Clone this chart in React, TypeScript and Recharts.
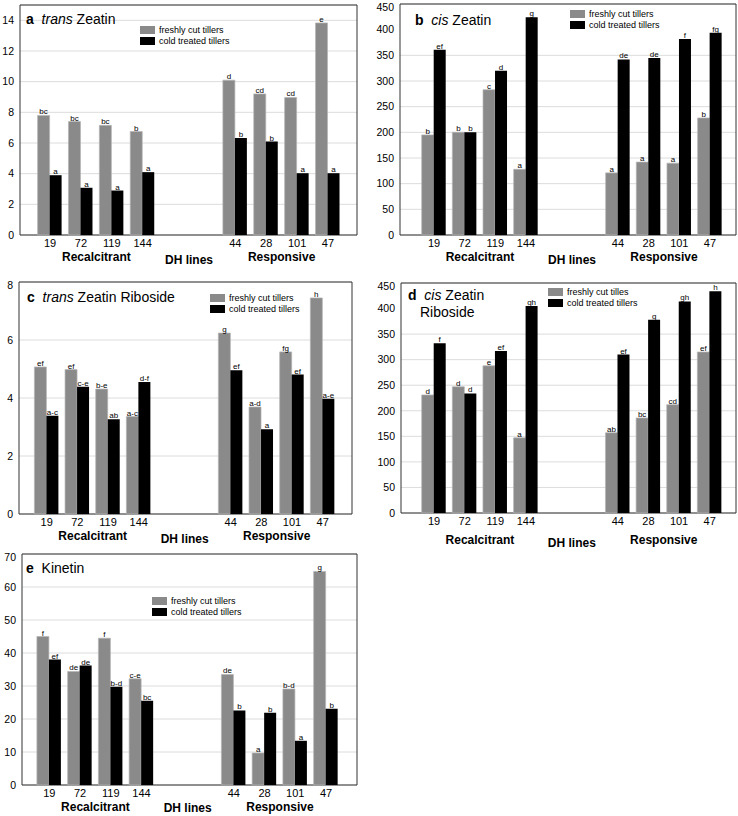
import React from 'react';
import { BarChart, Bar, XAxis, YAxis, CartesianGrid, Legend, LabelList } from 'recharts';

const FONT = '"Liberation Sans", Arial, Helvetica, sans-serif';

const lines = ['19', '72', '119', '144', '44', '28', '101', '47'];
const freshName = 'freshly cut tillers';
const coldName = 'cold treated tillers';

// a trans Zeatin
const tzFresh = [7.8, 7.4, 7.15, 6.75, 10.1, 9.2, 8.97, 13.83];
const tzCold = [3.9, 3.08, 2.9, 4.1, 6.33, 6.09, 4.03, 4.03];
const tzFreshLet = ['bc', 'bc', 'bc', 'b', 'd', 'cd', 'cd', 'e'];
const tzColdLet = ['a', 'a', 'a', 'a', 'b', 'b', 'a', 'a'];
const tzTicks = [0, 2, 4, 6, 8, 10, 12, 14];

// b cis Zeatin
const czFresh = [195, 200, 283, 128, 121, 142, 140, 228];
const czCold = [361, 200, 320, 424, 342, 345, 382, 394];
const czFreshLet = ['b', 'b', 'c', 'a', 'a', 'a', 'a', 'b'];
const czColdLet = ['ef', 'b', 'd', 'g', 'de', 'de', 'f', 'fg'];
const czTicks = [0, 50, 100, 150, 200, 250, 300, 350, 400, 450];

// c trans Zeatin Riboside
const tzrFresh = [5.07, 4.98, 4.31, 3.36, 6.24, 3.69, 5.59, 7.45];
const tzrCold = [3.39, 4.39, 3.27, 4.55, 4.96, 2.92, 4.81, 3.97];
const tzrFreshLet = ['ef', 'ef', 'b-e', 'a-c', 'g', 'a-d', 'fg', 'h'];
const tzrColdLet = ['a-c', 'c-e', 'ab', 'd-f', 'ef', 'a', 'ef', 'a-e'];
const tzrTicks = [0, 2, 4, 6, 8];

// d cis Zeatin Riboside
const czrFresh = [231, 247, 288, 147, 157, 186, 212, 315];
const czrCold = [332, 234, 317, 405, 310, 378, 414, 434];
const czrFreshLet = ['d', 'd', 'e', 'a', 'ab', 'bc', 'cd', 'ef'];
const czrColdLet = ['f', 'd', 'ef', 'gh', 'ef', 'g', 'gh', 'h'];
const czrTicks = [0, 50, 100, 150, 200, 250, 300, 350, 400, 450];

// e Kinetin
const kFresh = [45, 34.4, 44.5, 32.2, 33.5, 9.7, 29.1, 64.7];
const kCold = [38, 36.2, 29.8, 25.5, 22.6, 21.9, 13.4, 23.1];
const kFreshLet = ['f', 'de', 'f', 'c-e', 'de', 'a', 'b-d', 'g'];
const kColdLet = ['ef', 'de', 'b-d', 'bc', 'b', 'b', 'a', 'b'];
const kTicks = [0, 10, 20, 30, 40, 50, 60, 70];

// two empty slots separate the recalcitrant and responsive lines
const buildRows = (fresh: number[], cold: number[], fl: string[], cl: string[]) => {
  const rows = lines.map((line, i) => ({ line, fresh: fresh[i], cold: cold[i], fl: fl[i], cl: cl[i] }));
  const gap = (k: string) => ({ line: k, fresh: null, cold: null, fl: '', cl: '' });
  return [...rows.slice(0, 4), gap(' '), gap('  '), ...rows.slice(4)];
};

const frameH = ({ offset }: any) => [offset.top, offset.top + offset.height];
const frameV = ({ offset }: any) => [offset.left, offset.left + offset.width];

const LegendBox = ({ payload }: any) => {
  // fresh tillers first, as in the figure
  const items = [...(payload || [])].sort((a: any, b: any) => (a.dataKey === 'fresh' ? -1 : 1) - (b.dataKey === 'fresh' ? -1 : 1));
  return (
    <div style={{ fontSize: 9, lineHeight: '11px', color: '#000', fontFamily: FONT }}>
      {items.map((p: any) => (
        <div key={p.value} style={{ display: 'flex', alignItems: 'center', whiteSpace: 'nowrap' }}>
          <span style={{ display: 'inline-block', width: 15, height: 8, background: p.color, marginRight: 4 }} />
          {p.value}
        </div>
      ))}
    </div>
  );
};

interface PanelProps {
  px: number; py: number; pw: number; ph: number;
  yw: number; padL: number; padR: number;
  max: number; ticks: number[];
  rows: any[];
  fresh?: string;
  title: React.ReactNode;
  tx: number; ty: number;
  lx: number; ly: number;
  gdy: number; ddy?: number;
}

const Panel = (p: PanelProps) => {
  const left = p.px - p.yw;
  const top = p.py - 2;
  const band = (p.pw - p.padL - p.padR) / 10;
  const groups = [
    { text: 'Recalcitrant', c: 2, dy: 0 },
    { text: 'DH lines', c: 5, dy: p.ddy ?? 3 },
    { text: 'Responsive', c: 8, dy: 0 },
  ];
  return (
    <>
      <div style={{ position: 'absolute', left, top }}>
        <BarChart
          width={p.yw + p.pw + 2}
          height={p.ph + 44}
          data={p.rows}
          margin={{ top: 2, right: 2, left: 0, bottom: 0 }}
          barGap={0}
          barSize={12}
        >
          <CartesianGrid vertical={false} stroke="#dcdcdc" />
          <CartesianGrid horizontalCoordinatesGenerator={frameH} verticalCoordinatesGenerator={frameV} stroke="#333" />
          <XAxis
            dataKey="line"
            interval={0}
            height={42}
            padding={{ left: p.padL, right: p.padR }}
            axisLine={false}
            tickLine={false}
            tickSize={0}
            tickMargin={4}
            tick={{ fill: '#000', fontSize: 11 }}
          />
          <YAxis
            width={p.yw}
            domain={[0, p.max]}
            ticks={p.ticks}
            axisLine={false}
            tickLine={false}
            tickSize={0}
            tickMargin={6}
            tick={{ fill: '#000', fontSize: 10.5 }}
          />
          <Legend
            layout="vertical"
            align="center"
            verticalAlign="middle"
            content={<LegendBox />}
            wrapperStyle={{ left: p.lx - left, top: p.ly - top - 1.5, width: 'auto', height: 'auto' }}
          />
          <Bar dataKey="fresh" name={p.fresh || freshName} fill="#8a8a8a" stroke="#b4b4b4" strokeWidth={0.7} isAnimationActive={false}>
            <LabelList dataKey="fl" position="top" offset={1} fontSize={8} fill="#000" />
          </Bar>
          <Bar dataKey="cold" name={coldName} fill="#000" isAnimationActive={false}>
            <LabelList dataKey="cl" position="top" offset={1} fontSize={8} fill="#000" />
          </Bar>
        </BarChart>
      </div>
      <div style={{ position: 'absolute', left: p.tx, top: p.ty - 9, fontSize: 14, lineHeight: '17px', whiteSpace: 'nowrap' }}>
        {p.title}
      </div>
      {groups.map(g => (
        <div
          key={g.text}
          style={{
            position: 'absolute',
            left: p.px + p.padL + band * g.c,
            top: p.py + p.ph + p.gdy + g.dy - 7,
            transform: 'translateX(-50%)',
            fontSize: 12,
            fontWeight: 'bold',
            lineHeight: '14px',
            whiteSpace: 'nowrap',
          }}
        >
          {g.text}
        </div>
      ))}
    </>
  );
};

export default function App() {
  return (
    <div style={{ position: 'absolute', left: 0, top: 0, width: 738, height: 816, background: '#fff', fontFamily: FONT, overflow: 'hidden' }}>
      <Panel
        px={20} py={5} pw={337} ph={230} yw={20} padL={14.6} padR={13.6}
        max={15} ticks={tzTicks} rows={buildRows(tzFresh, tzCold, tzFreshLet, tzColdLet)}
        title={<><b>a</b>&nbsp; <i>trans</i> Zeatin</>} tx={26} ty={20}
        lx={140} ly={26} gdy={22}
      />
      <Panel
        px={400} py={4} pw={336} ph={231} yw={32} padL={18.7} padR={10.7}
        max={450} ticks={czTicks} rows={buildRows(czFresh, czCold, czFreshLet, czColdLet)}
        title={<><b>b</b>&nbsp; <i>cis</i> Zeatin</>} tx={415} ty={21}
        lx={570} ly={10} gdy={22}
      />
      <Panel
        px={19} py={282} pw={333} ph={232} yw={19} padL={12.4} padR={14}
        max={8} ticks={tzrTicks} rows={buildRows(tzrFresh, tzrCold, tzrFreshLet, tzrColdLet)}
        title={<><b>c</b>&nbsp; <i>trans</i> Zeatin Riboside</>} tx={27} ty={298}
        lx={210} ly={294} gdy={22}
      />
      <Panel
        px={401} py={283} pw={335} ph={230} yw={33} padL={17.7} padR={11}
        max={450} ticks={czrTicks} rows={buildRows(czrFresh, czrCold, czrFreshLet, czrColdLet)}
        fresh="freshly cut tilles"
        title={<><b>d</b>&nbsp; <i>cis</i> Zeatin<br /><span style={{ paddingLeft: 12 }}>Riboside</span></>} tx={408} ty={296}
        lx={548} ly={288} gdy={27}
      />
      <Panel
        px={22} py={554} pw={335} ph={231} yw={22} padL={11.9} padR={15.6}
        max={70} ticks={kTicks} rows={buildRows(kFresh, kCold, kFreshLet, kColdLet)}
        title={<><b>e</b>&nbsp; Kinetin</>} tx={26} ty={569}
        lx={152} ly={597} gdy={22} ddy={1}
      />
    </div>
  );
}
